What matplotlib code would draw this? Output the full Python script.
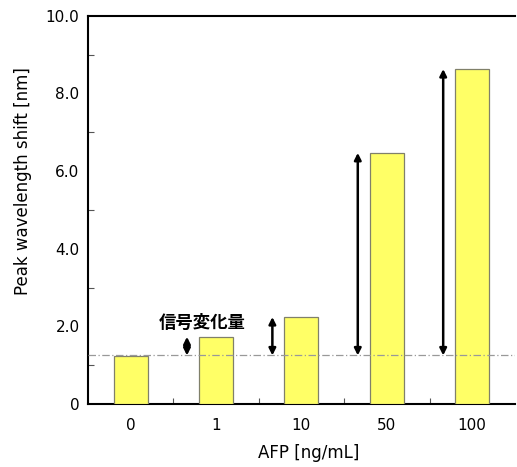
import numpy as np
import matplotlib
matplotlib.use('Agg')
import matplotlib.pyplot as plt

plt.rcParams['font.family'] = ['DejaVu Sans', 'Noto Sans CJK JP']

# ── Data ──────────────────────────────────────────────────────────────────────
concentrations = ['0', '1', '10', '50', '100']   # AFP [ng/mL]
shift_nm = [1.23, 1.73, 2.24, 6.47, 8.63]          # peak wavelength shift [nm]
baseline_nm = 1.25                                 # blank level
arrow_cats = [1, 2, 3, 4]

x = np.arange(len(concentrations))

fig = plt.figure(figsize=(5.17, 4.67), dpi=100)
ax = fig.add_axes([0.170, 0.135, 0.826, 0.831])

ax.bar(x, shift_nm, width=0.4, color='#FFFF66', edgecolor='#80806a', lw=0.9, zorder=3)

# blank level
ax.axhline(baseline_nm, color='#999999', lw=0.9, linestyle=(0, (6, 2, 1, 2)), zorder=4)

# signal change arrows
for i in arrow_cats:
    ax.annotate('', xy=(i - 0.34, shift_nm[i]), xytext=(i - 0.34, baseline_nm),
                arrowprops=dict(arrowstyle='<|-|>', color='black', lw=1.8,
                                mutation_scale=10, shrinkA=0, shrinkB=0),
                zorder=5)
ax.text(1 - 0.16, 2.08, '信号変化量', fontsize=12.5, fontweight='bold',
        ha='center', va='center', family=['Noto Sans CJK JP'])

ax.set_xlim(-0.5, len(concentrations) - 0.5)
ax.set_ylim(0, 10)
ax.set_xticks(x)
ax.set_xticklabels(concentrations, fontsize=11)
ax.set_xticks(np.arange(0.5, len(concentrations) - 0.5), minor=True)
ax.set_yticks([0, 2, 4, 6, 8, 10])
ax.set_yticklabels(['0', '2.0', '4.0', '6.0', '8.0', '10.0'], fontsize=11)
ax.set_yticks([1, 3, 5, 7, 9], minor=True)
ax.tick_params(which='major', length=0)
ax.tick_params(axis='x', which='major', pad=10)
ax.tick_params(axis='y', which='major', pad=6)
ax.tick_params(which='minor', direction='in', length=4, width=0.8, color='#555555')

for s in ['left', 'bottom', 'top']:
    ax.spines[s].set_linewidth(1.5)
ax.spines['right'].set_visible(False)

ax.set_xlabel('AFP [ng/mL]', fontsize=12)
ax.xaxis.set_label_coords(0.518, -0.104)
ax.set_ylabel('Peak wavelength shift [nm]', fontsize=12)
ax.yaxis.set_label_coords(-0.131, 0.575)

fig.savefig('out.png', dpi=100)
